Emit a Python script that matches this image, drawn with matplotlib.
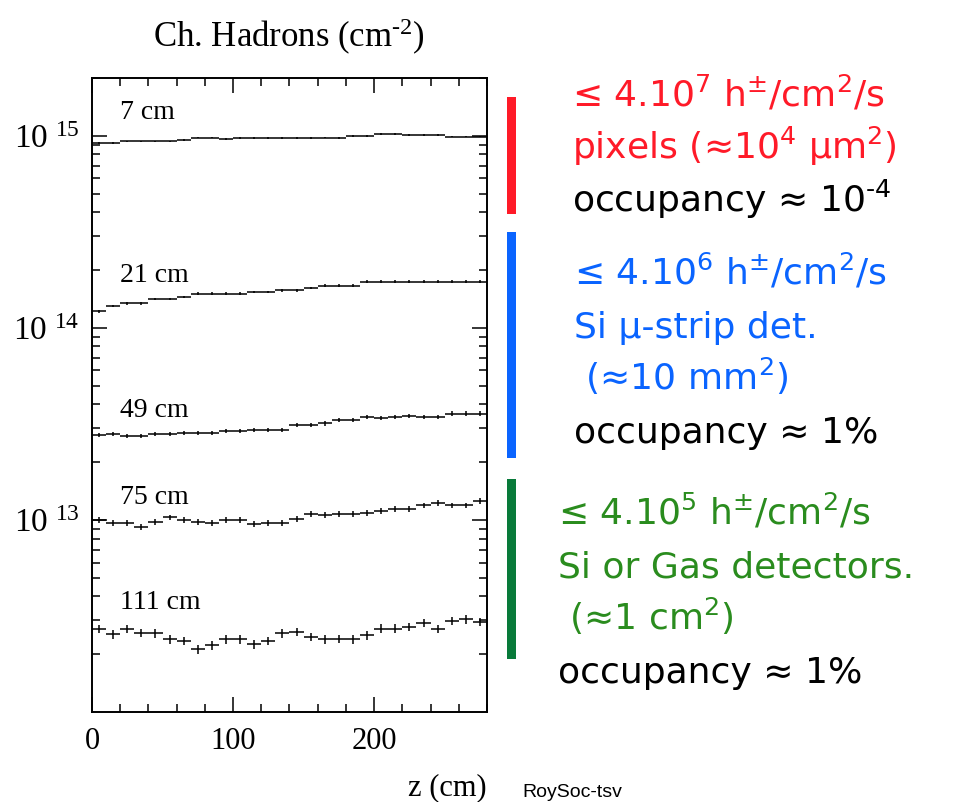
import matplotlib
matplotlib.use("Agg")
import matplotlib.pyplot as plt
import numpy as np
from matplotlib.patches import Rectangle
from matplotlib.ticker import FixedLocator, LogLocator, NullFormatter, MultipleLocator

W, H = 959, 802

# bin centres (10 cm bins along z)
z_centres = np.arange(5, 280, 10)

radii = ["7 cm", "21 cm", "49 cm", "75 cm", "111 cm"]

flux_7 = [9.15e14, 9.15e14, 9.35e14, 9.35e14, 9.35e14, 9.35e14, 9.5e14,
          9.8e14, 9.8e14, 9.6e14, 9.75e14, 9.75e14, 9.75e14, 9.75e14,
          9.75e14, 9.75e14, 9.8e14, 9.75e14, 1.0e15, 1.0e15, 1.02e15,
          1.02e15, 1.01e15, 1.01e15, 1.01e15, 9.9e14, 9.9e14, 9.9e14]
flux_21 = [1.22e14, 1.30e14, 1.34e14, 1.34e14, 1.41e14, 1.41e14, 1.45e14,
           1.51e14, 1.51e14, 1.51e14, 1.51e14, 1.54e14, 1.54e14, 1.57e14,
           1.57e14, 1.61e14, 1.66e14, 1.66e14, 1.66e14, 1.74e14, 1.74e14,
           1.74e14, 1.74e14, 1.74e14, 1.74e14, 1.74e14, 1.74e14, 1.74e14]
flux_49 = [2.76e13, 2.79e13, 2.75e13, 2.75e13, 2.79e13, 2.80e13, 2.85e13,
           2.85e13, 2.85e13, 2.91e13, 2.91e13, 2.95e13, 2.95e13, 2.95e13,
           3.13e13, 3.13e13, 3.18e13, 3.31e13, 3.31e13, 3.45e13, 3.39e13,
           3.44e13, 3.49e13, 3.44e13, 3.44e13, 3.58e13, 3.58e13, 3.58e13]
flux_75 = [9.96e12, 9.61e12, 9.6e12, 9.23e12, 9.78e12, 1.03e13, 9.96e12,
           9.8e12, 9.61e12, 9.96e12, 9.96e12, 9.5e12, 9.61e12, 9.61e12,
           1.016e13, 1.07e13, 1.06e13, 1.07e13, 1.07e13, 1.09e13, 1.11e13,
           1.14e13, 1.14e13, 1.19e13, 1.22e13, 1.19e13, 1.19e13, 1.25e13]
flux_111 = [2.70e12, 2.54e12, 2.70e12, 2.59e12, 2.57e12, 2.39e12, 2.34e12,
            2.12e12, 2.22e12, 2.39e12, 2.39e12, 2.25e12, 2.34e12, 2.57e12,
            2.61e12, 2.47e12, 2.39e12, 2.41e12, 2.39e12, 2.51e12, 2.72e12,
            2.72e12, 2.78e12, 2.92e12, 2.70e12, 2.98e12, 3.04e12, 2.94e12]

# relative statistical error per radius
rel_err = [0.01, 0.015, 0.025, 0.035, 0.05]

ytick_vals = [1e13, 1e14, 1e15]
ytick_labels = [r"$10^{\ 13}$", r"$10^{\ 14}$", r"$10^{\ 15}$"]
xtick_vals = [0, 100, 200]

red = "#ff1a28"
blue = "#0a64ff"
green_txt = "#2a8c1e"
green_bar = "#087a3a"

notes = [
    (red, 572, [r"≤ 4.10$^{7}$ h$^{±}$/cm$^{2}$/s",
                r"pixels (≈10$^{4}$ μm$^{2}$)",
                r"occupancy ≈ 10$^{‐4}$"], 107),
    (blue, 574, [r"≤ 4.10$^{6}$ h$^{±}$/cm$^{2}$/s",
                 "Si μ-strip det.",
                 r" (≈10 mm$^{2}$)",
                 "occupancy ≈ 1%"], 285),
    (green_txt, 558, [r"≤ 4.10$^{5}$ h$^{±}$/cm$^{2}$/s",
                      "Si or Gas detectors.",
                      r" (≈1 cm$^{2}$)",
                      "occupancy ≈ 1%"], 525),
]
bars = [(red, 97, 214), (blue, 232, 458), (green_bar, 479, 659)]


def fx(x):
    return x / W


def fy(y):
    return 1 - y / H


def main():
    # math parts use the font of the text they sit in
    plt.rcParams["mathtext.default"] = "regular"
    serif = "Liberation Serif"

    fig = plt.figure(figsize=(W / 100, H / 100), dpi=100)
    ax = fig.add_axes([fx(92), fy(712), 395 / W, 634 / H])

    series = [flux_7, flux_21, flux_49, flux_75, flux_111]
    for vals, err in zip(series, rel_err):
        vals = np.array(vals)
        ax.errorbar(z_centres, vals, xerr=5, yerr=vals * err, fmt="none",
                    ecolor="black", elinewidth=1.1, capsize=0)

    ax.set_yscale("log")
    ax.set_xlim(0, 280)
    ax.set_ylim(1e12, 2e15)

    ax.yaxis.set_major_locator(FixedLocator(ytick_vals))
    ax.set_yticklabels(ytick_labels)
    ax.yaxis.set_minor_locator(LogLocator(base=10, subs=np.arange(2, 10)))
    ax.yaxis.set_minor_formatter(NullFormatter())
    ax.xaxis.set_major_locator(FixedLocator(xtick_vals))
    ax.xaxis.set_minor_locator(MultipleLocator(20))

    ax.tick_params(which="both", direction="in", top=True, right=True,
                   width=1.1)
    ax.tick_params(which="major", length=11)
    ax.tick_params(which="minor", length=5.5)
    ax.tick_params(axis="x", pad=11, labelsize=22)
    ax.tick_params(axis="y", pad=9, labelsize=24)
    for lab in ax.get_xticklabels() + ax.get_yticklabels():
        lab.set_family(serif)
    for lab in ax.get_yticklabels():
        lab.set_verticalalignment("center_baseline")
    for sp in ax.spines.values():
        sp.set_linewidth(1.4)

    label_pos = [0.946, 0.689, 0.476, 0.339, 0.172]
    for name, yp in zip(radii, label_pos):
        ax.text(0.071, yp, name, transform=ax.transAxes, fontsize=20,
                family=serif, va="center", ha="left")

    fig.text(fx(289), fy(47), r"Ch. Hadrons (cm$^{‐2}$)", fontsize=25,
             family=serif, ha="center", va="baseline")
    fig.text(fx(487), fy(795), "z (cm)", fontsize=22, family=serif,
             ha="right", va="baseline")
    fig.text(fx(522), fy(797), "RoySoc-tsv", fontsize=14,
             family="Liberation Sans", ha="left", va="baseline")

    for col, y0, y1 in bars:
        fig.add_artist(Rectangle((fx(507), fy(y1)), 9 / W, (y1 - y0) / H,
                                 transform=fig.transFigure, color=col, lw=0))

    for col, x0, lines, base in notes:
        for i, txt in enumerate(lines):
            c = "black" if txt.startswith("occupancy") else col
            fig.text(fx(x0), fy(base + 52.5 * i), txt, fontsize=26, color=c,
                     family=["DejaVu Sans"], ha="left", va="baseline")

    fig.savefig("out.png", dpi=100)


if __name__ == "__main__":
    main()
